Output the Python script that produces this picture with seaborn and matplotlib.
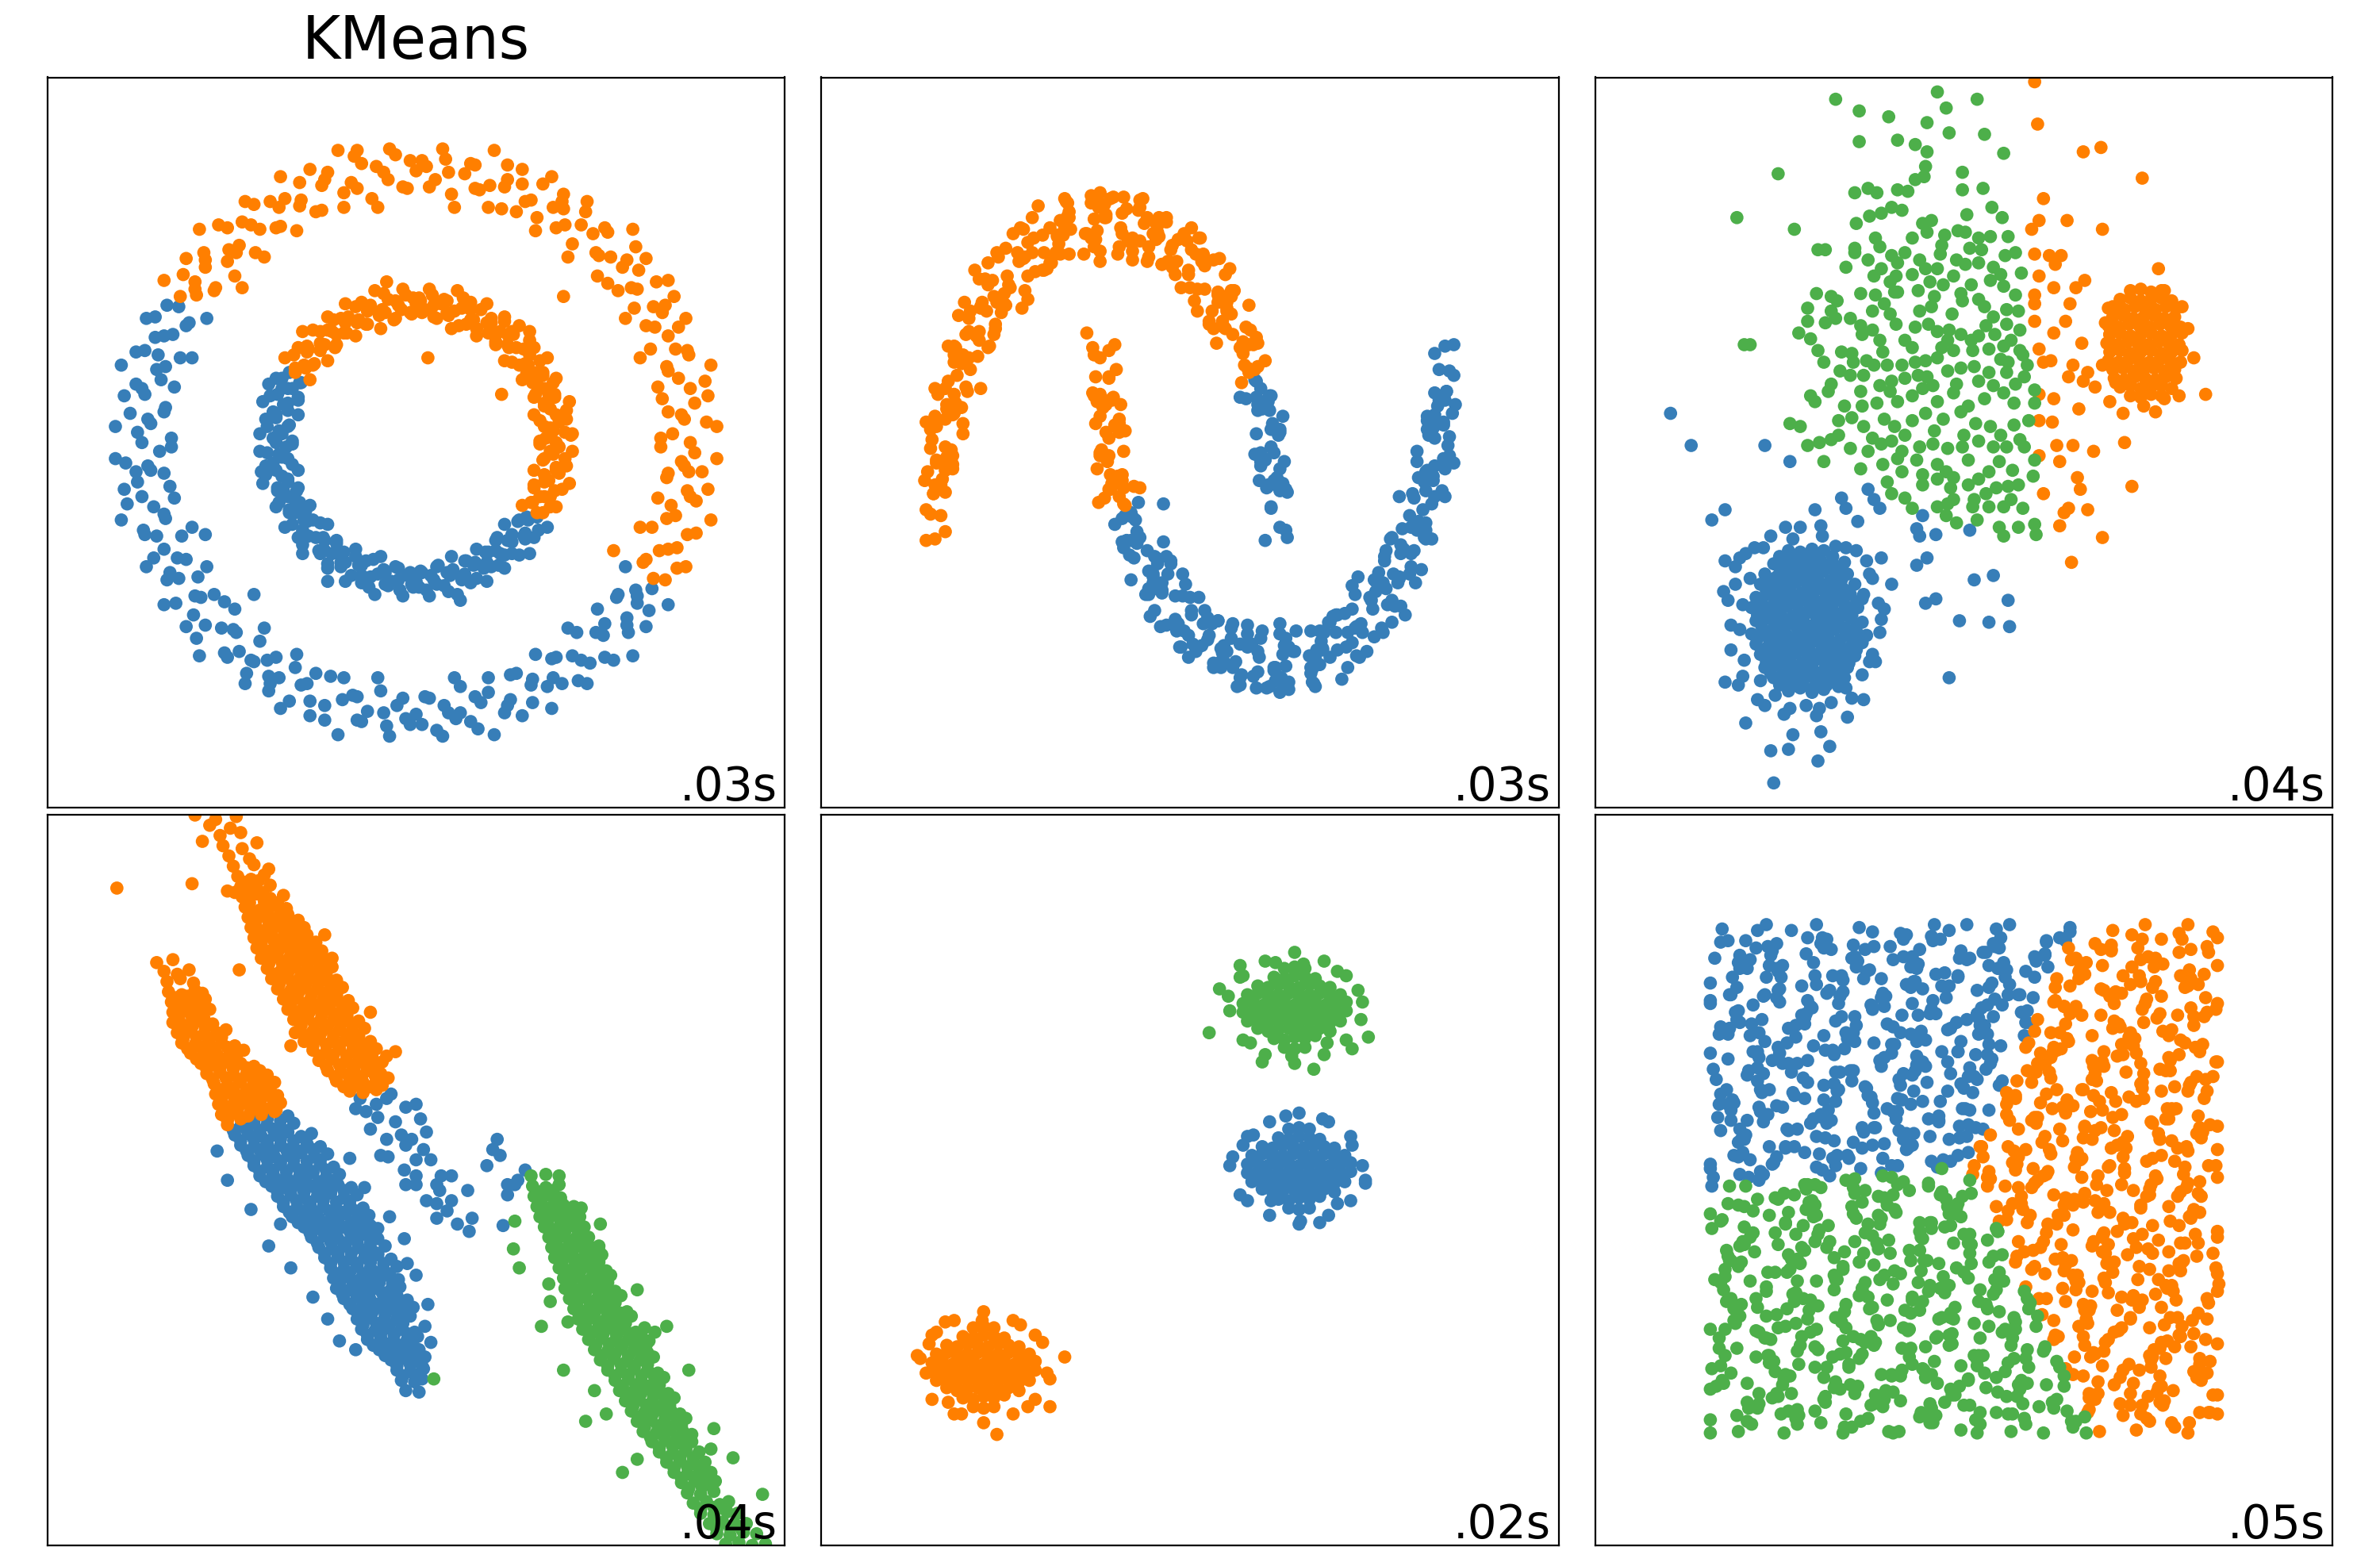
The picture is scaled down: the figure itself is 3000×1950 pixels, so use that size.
import numpy as np
import pandas as pd
import matplotlib
matplotlib.use("Agg")
import matplotlib.pyplot as plt
import seaborn as sns

# Point positions, in hundredths of a data unit.
# Every panel spans -2.5 .. 2.5 on both axes.

# --- noisy circles ---
circles_orange = [
    (186,0),(174,6),(197,14),(180,19),(189,27),(167,30),(196,42),(178,44),(171,49),(185,60),(176,64),(159,64),
    (178,79),(162,79),(167,89),(161,93),(148,92),(163,110),(146,106),(151,118),(130,109),(149,134),(132,127),
    (124,128),(130,144),(120,143),(106,136),(115,158),(101,149),(100,160),(93,161),(82,154),(86,177),(74,165),
    (72,177),(58,160),(62,190),(50,176),(43,173),(40,190),(33,184),(24,170),(20,194),(13,180),(7,189),
    (0,186),(-6,174),(-14,197),(-19,180),(-27,189),(-30,167),(-42,196),(-44,178),(-49,171),(-60,185),(-64,176),
    (-64,159),(-79,178),(-79,162),(-89,167),(-93,161),(-92,148),(-110,163),(-106,146),(-118,151),(-109,130),
    (-134,149),(-127,132),(-128,124),(-144,130),(-143,120),(-136,106),(-158,115),(-149,101),(-160,100),
    (161,-93),(154,-82),(177,-86),(165,-74),(177,-72),(160,-58),(190,-62),(176,-50),(173,-43),(190,-40),
    (184,-33),(170,-24),(194,-20),(180,-13),(189,-7),
    (140,120),(-40,200),(60,175),(175,100),(-120,135),(185,-20),(100,170),(-150,110),(-118,106),(100,100),(134,-74),
    (95,0),(88,3),(101,7),(91,10),(97,14),(84,15),(102,22),(91,23),(87,25),(94,31),(90,33),(81,33),(93,41),
    (82,40),(86,46),(82,48),(75,47),(84,56),(74,54),(77,60),(65,55),(77,70),(68,65),(63,65),(66,74),(62,74),
    (54,69),(60,83),(51,75),(51,82),(48,82),(41,78),(44,91),(37,84),(37,91),(29,80),(32,99),(26,90),(22,87),
    (21,97),(17,95),(12,86),(11,101),(6,91),(3,97),
    (0,95),(-3,88),(-7,101),(-10,91),(-14,97),(-15,84),(-22,102),(-23,91),(-25,87),(-31,94),(-33,90),(-33,81),
    (-41,93),(-40,82),(-46,86),(-48,82),(-47,75),(-56,84),(-54,74),(-60,77),(-55,65),(-70,77),(-65,68),(-65,63),
    (-74,66),(-74,62),(-69,54),(-83,60),(-75,51),(-82,51),(-82,48),
    (82,-48),(78,-41),(91,-44),(84,-37),(91,-37),(80,-29),(99,-32),(90,-26),(87,-22),(97,-21),(95,-17),(86,-12),
    (101,-11),(91,-6),(97,-3),
    (8,58),(58,33),(-20,110),(70,80),(105,5),
]
circles_orange_2 = [
    (166,3),(204,11),(182,16),(171,21),(198,32),(186,37),(164,38),(200,53),(170,52),(184,63),(152,58),(171,73),
    (183,85),(156,80),(169,94),(142,85),(171,111),(150,105),(137,104),(156,126),(143,125),(123,114),(147,146),
    (122,130),(128,147),(103,127),(112,149),(116,165),(95,147),(99,165),(81,145),(92,182),(78,166),(68,158),
    (72,187),(62,180),(49,161),(53,200),(40,174),(37,191),(26,161),(22,185),(18,201),(9,175),(4,193),
    (-171,111),(-150,105),(-137,104),(-156,126),(-143,125),(-123,114),(-147,146),(-122,130),(-128,147),
    (-103,127),(-112,149),(-116,165),(-95,147),(-99,165),(-81,145),(-92,182),(-78,166),(-68,158),(-72,187),
    (-62,180),(-49,161),(-53,200),(-40,174),(-37,191),(-26,161),(-22,185),(-18,201),(-9,175),(-4,193),
    (166,-3),(204,-11),(182,-16),(171,-21),(198,-32),(186,-37),(164,-38),(200,-53),(170,-52),(184,-63),
    (152,-58),(171,-73),(183,-85),(156,-80),(169,-94),
    (84,1),(106,6),(93,8),(87,11),(102,16),(95,19),(80,19),(104,28),(87,27),(94,33),(80,31),(87,37),(95,44),
    (79,41),(86,48),(72,43),(89,58),(76,53),(70,53),(80,65),(73,64),(60,56),(77,76),(62,67),(65,76),(54,67),
    (57,76),(60,86),(49,75),(51,85),(41,73),(48,95),(39,84),(34,81),(37,96),(31,92),(24,78),(28,104),(21,89),
    (19,98),(14,85),(12,94),(9,105),(4,89),(2,99),
    (-72,43),(-89,58),(-76,53),(-70,53),(-80,65),(-73,64),(-60,56),(-77,76),(-62,67),(-65,76),(-54,67),(-57,76),
    (-60,86),(-49,75),(-51,85),(-41,73),(-48,95),(-39,84),(-34,81),(-37,96),(-31,92),(-24,78),(-28,104),
    (-21,89),(-19,98),(-14,85),(-12,94),(-9,105),(-4,89),(-2,99),
    (84,-1),(106,-6),(93,-8),(87,-11),(102,-16),(95,-19),(80,-19),(104,-28),(87,-27),(94,-33),(80,-31),
    (87,-37),(95,-44),(79,-41),(86,-48),(72,-43),
]
circles_blue = [
    (-161,93),(-154,82),(-177,86),(-165,74),(-177,72),(-160,58),(-190,62),(-176,50),(-173,43),(-190,40),
    (-184,33),(-170,24),(-194,20),(-180,13),(-189,7),
    (-186,0),(-174,-6),(-197,-14),(-180,-19),(-189,-27),(-167,-30),(-196,-42),(-178,-44),(-171,-49),(-185,-60),
    (-176,-64),(-159,-64),(-178,-79),(-162,-79),(-167,-89),(-161,-93),(-148,-92),(-163,-110),(-146,-106),
    (-151,-118),(-130,-109),(-149,-134),(-132,-127),(-124,-128),(-130,-144),(-120,-143),(-106,-136),(-115,-158),
    (-101,-149),(-100,-160),(-93,-161),(-82,-154),(-86,-177),(-74,-165),(-72,-177),(-58,-160),(-62,-190),
    (-50,-176),(-43,-173),(-40,-190),(-33,-184),(-24,-170),(-20,-194),(-13,-180),(-7,-189),
    (0,-186),(6,-174),(14,-197),(19,-180),(27,-189),(30,-167),(42,-196),(44,-178),(49,-171),(60,-185),(64,-176),
    (64,-159),(79,-178),(79,-162),(89,-167),(93,-161),(92,-148),(110,-163),(106,-146),(118,-151),(109,-130),
    (134,-149),(127,-132),(128,-124),(144,-130),(143,-120),(136,-106),(158,-115),(149,-101),(160,-100),
    (150,-110),(-110,-150),(-190,-20),(-100,-170),(30,-185),(-175,60),(-143,-63),(-110,-104),
    (-78,41),(-91,44),(-84,37),(-91,37),(-80,29),(-99,32),(-90,26),(-87,22),(-97,21),(-95,17),(-86,12),(-101,11),
    (-91,6),(-97,3),
    (-95,0),(-88,-3),(-101,-7),(-91,-10),(-97,-14),(-84,-15),(-102,-22),(-91,-23),(-87,-25),(-94,-31),(-90,-33),
    (-81,-33),(-93,-41),(-82,-40),(-86,-46),(-82,-48),(-75,-47),(-84,-56),(-74,-54),(-77,-60),(-65,-55),(-77,-70),
    (-68,-65),(-63,-65),(-66,-74),(-62,-74),(-54,-69),(-60,-83),(-51,-75),(-51,-82),(-48,-82),(-41,-78),(-44,-91),
    (-37,-84),(-37,-91),(-29,-80),(-32,-99),(-26,-90),(-22,-87),(-21,-97),(-17,-95),(-12,-86),(-11,-101),(-6,-91),
    (-3,-97),
    (0,-95),(3,-88),(7,-101),(10,-91),(14,-97),(15,-84),(22,-102),(23,-91),(25,-87),(31,-94),(33,-90),(33,-81),
    (41,-93),(40,-82),(46,-86),(48,-82),(47,-75),(56,-84),(54,-74),(60,-77),(55,-65),(70,-77),(65,-68),(65,-63),
    (74,-66),(74,-62),(69,-54),(83,-60),(75,-51),(82,-51),
    (-105,-20),(-60,-95),(-100,40),(30,-108),
]
circles_blue_2 = [
    (-166,3),(-204,11),(-182,16),(-171,21),(-198,32),(-186,37),(-164,38),(-200,53),(-170,52),(-184,63),
    (-152,58),(-171,73),(-183,85),(-156,80),(-169,94),(-142,85),
    (-166,-3),(-204,-11),(-182,-16),(-171,-21),(-198,-32),(-186,-37),(-164,-38),(-200,-53),(-170,-52),
    (-184,-63),(-152,-58),(-171,-73),(-183,-85),(-156,-80),(-169,-94),(-142,-85),(-171,-111),(-150,-105),
    (-137,-104),(-156,-126),(-143,-125),(-123,-114),(-147,-146),(-122,-130),(-128,-147),(-103,-127),
    (-112,-149),(-116,-165),(-95,-147),(-99,-165),(-81,-145),(-92,-182),(-78,-166),(-68,-158),(-72,-187),
    (-62,-180),(-49,-161),(-53,-200),(-40,-174),(-37,-191),(-26,-161),(-22,-185),(-18,-201),(-9,-175),(-4,-193),
    (142,-85),(171,-111),(150,-105),(137,-104),(156,-126),(143,-125),(123,-114),(147,-146),(122,-130),
    (128,-147),(103,-127),(112,-149),(116,-165),(95,-147),(99,-165),(81,-145),(92,-182),(78,-166),(68,-158),
    (72,-187),(62,-180),(49,-161),(53,-200),(40,-174),(37,-191),(26,-161),(22,-185),(18,-201),(9,-175),(4,-193),
    (-84,1),(-106,6),(-93,8),(-87,11),(-102,16),(-95,19),(-80,19),(-104,28),(-87,27),(-94,33),(-80,31),
    (-87,37),(-95,44),(-79,41),(-86,48),
    (-84,-1),(-106,-6),(-93,-8),(-87,-11),(-102,-16),(-95,-19),(-80,-19),(-104,-28),(-87,-27),(-94,-33),
    (-80,-31),(-87,-37),(-95,-44),(-79,-41),(-86,-48),(-72,-43),(-89,-58),(-76,-53),(-70,-53),(-80,-65),
    (-73,-64),(-60,-56),(-77,-76),(-62,-67),(-65,-76),(-54,-67),(-57,-76),(-60,-86),(-49,-75),(-51,-85),
    (-41,-73),(-48,-95),(-39,-84),(-34,-81),(-37,-96),(-31,-92),(-24,-78),(-28,-104),(-21,-89),(-19,-98),
    (-14,-85),(-12,-94),(-9,-105),(-4,-89),(-2,-99),
    (89,-58),(76,-53),(70,-53),(80,-65),(73,-64),(60,-56),(77,-76),(62,-67),(65,-76),(54,-67),(57,-76),
    (60,-86),(49,-75),(51,-85),(41,-73),(48,-95),(39,-84),(34,-81),(37,-96),(31,-92),(24,-78),(28,-104),
    (21,-89),(19,-98),(14,-85),(12,-94),(9,-105),(4,-89),(2,-99),
]

# --- noisy moons ---
moons_orange = [
    (51,56),(46,52),(35,41),(46,68),(34,65),(25,90),(36,69),(28,88),(22,83),(30,104),(13,81),(19,103),(24,100),
    (8,124),(-1,118),(10,105),(4,129),(-9,124),(1,147),(-12,123),(-23,139),(-13,132),(-21,150),(-29,124),
    (-22,144),(-40,138),(-35,159),(-31,150),(-48,134),(-57,156),(-47,147),(-54,167),(-67,140),(-57,154),
    (-71,143),(-82,158),(-72,129),(-81,146),(-89,136),(-82,154),(-100,142),(-94,123),(-90,141),(-107,130),
    (-115,147),(-105,117),(-112,127),(-124,114),(-113,126),(-127,94),(-137,108),(-126,95),(-134,111),(-141,96),
    (-133,74),(-149,90),(-143,76),(-138,90),(-153,58),(-160,66),(-149,50),(-154,60),(-165,26),(-152,38),
    (-164,23),(-173,37),(-160,20),(-166,-3),(-172,11),(-162,-5),(-176,9),(-168,-25),(-161,-18),(-174,-35),
    (-180,-26),(-166,-61),(-169,-50),
    (36,61),(37,53),(38,79),(19,101),(25,92),(15,90),(16,125),(-1,115),(-10,115),(-8,139),(-29,154),(-21,141),
    (-34,138),(-46,157),(-42,138),(-65,153),(-67,164),(-70,143),(-91,129),(-88,152),(-99,130),(-99,118),
    (-117,130),(-125,133),(-123,108),(-142,92),(-133,100),(-143,70),(-152,74),(-145,73),(-164,42),(-161,19),
    (-160,33),(-175,2),(-166,-19),(-172,-14),(-165,-18),(-176,-49),
    (-61,58),(-52,31),(-66,34),(-55,44),(-48,16),(-61,18),(-55,-9),(-51,12),(-61,-9),(-45,-6),(-53,-28),(-60,-7),
    (-45,-31),(-38,-30),(-53,29),(-61,33),(-47,26),(-61,-7),(-53,-30),(-46,-26),(-55,-32),
    (-70,75),(-55,63),(-62,-41),(-58,-38),(-50,50),(-64,45),
]
moons_orange_2 = [
    (45,72),(43,67),(25,100),(24,78),(28,104),(5,90),(9,129),(6,140),(-12,120),(-25,143),(-19,122),(-21,154),
    (-45,168),(-46,143),(-65,134),(-58,163),(-63,145),(-84,165),(-88,129),(-86,142),(-110,114),(-106,140),
    (-110,137),(-126,102),(-139,112),(-132,78),(-131,96),(-153,96),(-150,58),(-166,37),(-155,54),(-155,24),
    (-171,33),(-170,-13),(-161,-9),(-179,-46),(-169,-29),
    (40,48),(41,77),(44,50),(23,79),(28,100),(16,78),(24,115),(1,132),(-6,106),(-2,138),(-16,154),(-12,135),
    (-39,131),(-34,161),(-39,140),(-58,154),(-61,171),(-61,131),(-85,147),(-83,155),(-97,119),(-90,142),
    (-113,146),(-122,106),(-116,124),(-130,127),(-125,94),(-150,76),(-142,93),(-144,59),(-160,60),(-159,65),
    (-154,13),(-173,18),(-166,16),(-173,-29),(-161,-15),(-178,-20),(-179,-67),
    (-65,32),(-55,45),(-48,13),(-59,24),(-63,-18),(-45,-42),(-48,-28),(-34,-31),(-51,67),(-63,28),(-55,3),
    (-64,13),(-44,8),(-54,-32),(-54,-22),
]
moons_orange_3 = [
    (36,66),(39,51),(40,94),(18,68),(27,119),(13,83),(20,126),(3,97),(5,105),(-16,151),(-15,124),(-34,166),
    (-28,127),(-43,160),(-39,125),(-64,166),(-64,139),(-67,169),(-91,130),(-85,167),(-100,118),(-95,147),
    (-112,104),(-110,98),(-131,130),(-128,89),(-146,118),(-137,65),(-150,85),(-142,37),(-164,66),(-159,27),
    (-158,46),(-176,-4),(-165,23),(-174,-35),(-162,-15),(-173,-66),
    (41,50),(40,67),(25,96),(29,74),(10,121),(19,96),(7,140),(-4,143),(0,106),(-23,150),(-19,122),(-32,167),
    (-28,134),(-52,168),(-49,129),(-62,161),(-61,124),(-83,164),(-82,129),(-103,162),(-95,123),(-107,154),
    (-120,143),(-114,92),(-137,123),(-132,81),(-143,112),(-136,66),(-157,87),(-151,35),(-160,55),(-154,6),
    (-171,35),(-165,-10),(-179,14),(-166,-34),(-172,-12),
    (-66,65),(-51,11),(-59,29),(-46,-22),(-57,7),(-48,-37),(-56,-13),(-53,30),(-65,60),(-48,7),(-57,26),
    (-51,-28),(-60,-5),(-49,-23),(-44,-43),
]
moons_blue = [
    (61,-58),(52,-31),(66,-34),(55,-44),(48,-16),(61,-18),(55,9),(51,-12),(61,9),(45,6),(53,28),(60,7),(45,31),
    (38,30),(53,-29),(61,-33),(47,-26),(61,7),(53,30),(46,26),(55,32),
    (-51,-56),(-46,-52),(-35,-41),(-46,-68),(-34,-65),(-25,-90),(-36,-69),(-28,-88),(-22,-83),(-30,-104),
    (-13,-81),(-19,-103),(-24,-100),(-8,-124),(1,-118),(-10,-105),(-4,-129),(9,-124),(-1,-147),(12,-123),
    (23,-139),(13,-132),(21,-150),(29,-124),(22,-144),(40,-138),(35,-159),(31,-150),(48,-134),(57,-156),
    (47,-147),(54,-167),(67,-140),(57,-154),(71,-143),(82,-158),(72,-129),(81,-146),(89,-136),(82,-154),
    (100,-142),(94,-123),(90,-141),(107,-130),(115,-147),(105,-117),(112,-127),(124,-114),(113,-126),(127,-94),
    (137,-108),(126,-95),(134,-111),(141,-96),(133,-74),(149,-90),(143,-76),(138,-90),(153,-58),(160,-66),
    (149,-50),(154,-60),(165,-26),(152,-38),(164,-23),(173,-37),(160,-20),(166,3),(172,-11),(162,5),(176,-9),
    (168,25),(161,18),(174,35),(180,26),(166,61),(169,50),
    (-36,-61),(-37,-53),(-38,-79),(-19,-101),(-25,-92),(-15,-90),(-16,-125),(1,-115),(10,-115),(8,-139),
    (29,-154),(21,-141),(34,-138),(46,-157),(42,-138),(65,-153),(67,-164),(70,-143),(91,-129),(88,-152),
    (99,-130),(99,-118),(117,-130),(125,-133),(123,-108),(142,-92),(133,-100),(143,-70),(152,-74),(145,-73),
    (164,-42),(161,-19),(160,-33),(175,-2),(166,19),(172,14),(165,18),(176,49),
    (-18,-42),
]
moons_blue_2 = [
    (65,-32),(55,-45),(48,-13),(59,-24),(63,18),(45,42),(48,28),(34,31),(51,-67),(63,-28),(55,-3),(64,-13),
    (44,-8),(54,32),(54,22),
    (-45,-72),(-43,-67),(-25,-100),(-24,-78),(-28,-104),(-5,-90),(-9,-129),(-6,-140),(12,-120),(25,-143),
    (19,-122),(21,-154),(45,-168),(46,-143),(65,-134),(58,-163),(63,-145),(84,-165),(88,-129),(86,-142),
    (110,-114),(106,-140),(110,-137),(126,-102),(139,-112),(132,-78),(131,-96),(153,-96),(150,-58),(166,-37),
    (155,-54),(155,-24),(171,-33),(170,13),(161,9),(179,46),(169,29),
    (-40,-48),(-41,-77),(-44,-50),(-23,-79),(-28,-100),(-16,-78),(-24,-115),(-1,-132),(6,-106),(2,-138),
    (16,-154),(12,-135),(39,-131),(34,-161),(39,-140),(58,-154),(61,-171),(61,-131),(85,-147),(83,-155),
    (97,-119),(90,-142),(113,-146),(122,-106),(116,-124),(130,-127),(125,-94),(150,-76),(142,-93),(144,-59),
    (160,-60),(159,-65),(154,-13),(173,-18),(166,-16),(173,29),(161,15),(178,20),(179,67),
]
moons_blue_3 = [
    (66,-65),(51,-11),(59,-29),(46,22),(57,-7),(48,37),(56,13),(53,-30),(65,-60),(48,-7),(57,-26),(51,28),
    (60,5),(49,23),(44,43),
    (-36,-66),(-39,-51),(-40,-94),(-18,-68),(-27,-119),(-13,-83),(-20,-126),(-3,-97),(-5,-105),(16,-151),
    (15,-124),(34,-166),(28,-127),(43,-160),(39,-125),(64,-166),(64,-139),(67,-169),(91,-130),(85,-167),
    (100,-118),(95,-147),(112,-104),(110,-98),(131,-130),(128,-89),(146,-118),(137,-65),(150,-85),(142,-37),
    (164,-66),(159,-27),(158,-46),(176,4),(165,-23),(174,35),(162,15),(173,66),
    (-41,-50),(-40,-67),(-25,-96),(-29,-74),(-10,-121),(-19,-96),(-7,-140),(4,-143),(0,-106),(23,-150),
    (19,-122),(32,-167),(28,-134),(52,-168),(49,-129),(62,-161),(61,-124),(83,-164),(82,-129),(103,-162),
    (95,-123),(107,-154),(120,-143),(114,-92),(137,-123),(132,-81),(143,-112),(136,-66),(157,-87),(151,-35),
    (160,-55),(154,-6),(171,-35),(165,10),(179,-14),(166,34),(172,12),
]

# --- blobs of varied spread ---
varied_blue = [
    (-119,-74),(-111,-75),(-103,-73),(-95,-74),
    (-129,-83),(-121,-81),(-113,-82),(-105,-84),(-97,-81),(-89,-83),(-81,-82),
    (-135,-90),(-127,-92),(-119,-89),(-111,-91),(-103,-90),(-95,-88),(-87,-91),(-79,-90),
    (-138,-97),(-130,-99),(-122,-98),(-114,-96),(-106,-99),(-98,-97),(-90,-98),(-82,-100),(-74,-97),
    (-141,-106),(-133,-104),(-125,-107),(-117,-105),(-109,-106),(-101,-108),(-93,-105),(-85,-106),(-77,-104),(-69,-107),
    (-144,-113),(-136,-115),(-128,-114),(-120,-112),(-112,-115),(-104,-114),(-96,-113),(-88,-116),(-80,-114),(-72,-113),
    (-141,-122),(-133,-120),(-125,-123),(-117,-121),(-109,-122),(-101,-124),(-93,-121),(-85,-122),(-77,-120),(-69,-123),
    (-144,-131),(-136,-129),(-128,-130),(-120,-132),(-112,-129),(-104,-130),(-96,-131),(-88,-128),(-80,-130),(-72,-131),
    (-141,-138),(-133,-140),(-125,-137),(-117,-139),(-109,-138),(-101,-136),(-93,-139),(-85,-138),(-77,-140),(-69,-137),
    (-138,-145),(-130,-147),(-122,-146),(-114,-144),(-106,-147),(-98,-146),(-90,-145),(-82,-147),(-74,-146),
    (-135,-154),(-127,-152),(-119,-155),(-111,-153),(-103,-154),(-95,-156),(-87,-153),(-79,-154),
    (-129,-161),(-121,-163),(-113,-162),(-105,-160),(-97,-163),(-89,-162),(-81,-161),
    (-119,-170),(-111,-168),(-103,-171),(-95,-169),
    (-199,20),(-185,-2),(-135,-2),(-118,-13),(-171,-53),(-162,-46),(-83,-38),(-80,-45),(-65,-32),(-61,-39),
    (-57,-45),(-72,-54),(-101,-46),(-28,-50),(-32,-59),(-30,-64),(-19,-63),(4,-60),(-25,-79),(-32,-84),(7,-94),
    (20,-91),(30,-108),(-26,-110),(-19,-107),(-3,-122),(17,-123),(31,-126),(-10,-161),(-49,-97),(-54,-114),
    (-56,-121),(-60,-150),(-68,-176),(-79,-188),(-91,-208),(-99,-218),(-129,-233),(-131,-211),(-119,-210),
    (-116,-200),(-148,-192),(-162,-164),(-153,-166),(-163,-102),(-162,-81),(-135,-180),(-100,-187),(-97,-198),
    (-152,-79),(-142,-72),(-131,-64),(-121,-58),(-111,-58),(-97,-57),(-87,-71),(-73,-74),(-66,-81),(-56,-79),
    (-62,-93),(-68,-104),(-66,-132),(-62,-145),(-69,-159),(-76,-175),(-90,-178),(-107,-180),(-118,-182),
    (-128,-173),(-138,-163),(-149,-149),(-152,-128),(-150,-111),(-155,-97),(-145,-93),
    (-155,-85),(-160,-108),(-158,-125),(-158,-142),(-150,-160),(-140,-176),(-122,-186),(-98,-182),(-80,-168),
    (-64,-150),(-57,-130),(-58,-110),(-64,-90),(-80,-72),(-96,-64),(-116,-66),(-136,-72),(-148,-76),
]
varied_blue_2 = [
    (-125,-78),(-115,-79),(-107,-78),(-99,-79),(-89,-78),
    (-125,-86),(-117,-87),(-109,-86),(-101,-87),(-93,-86),(-85,-87),
    (-131,-94),(-123,-95),(-115,-94),(-107,-95),(-99,-94),(-91,-95),(-83,-94),
    (-134,-102),(-126,-103),(-118,-102),(-110,-103),(-102,-102),(-94,-103),(-86,-102),(-78,-103),
    (-137,-110),(-129,-111),(-121,-110),(-113,-111),(-105,-110),(-97,-111),(-89,-110),(-81,-111),(-73,-110),
    (-140,-118),(-132,-119),(-124,-118),(-116,-119),(-108,-118),(-100,-119),(-92,-118),(-84,-119),(-76,-118),
    (-137,-126),(-129,-127),(-121,-126),(-113,-127),(-105,-126),(-97,-127),(-89,-126),(-81,-127),(-73,-126),
    (-140,-134),(-132,-135),(-124,-134),(-116,-135),(-108,-134),(-100,-135),(-92,-134),(-84,-135),(-76,-134),
    (-137,-142),(-129,-143),(-121,-142),(-113,-143),(-105,-142),(-97,-143),(-89,-142),(-81,-143),(-73,-142),
    (-134,-150),(-126,-151),(-118,-150),(-110,-151),(-102,-150),(-94,-151),(-86,-150),(-78,-151),
    (-131,-158),(-123,-159),(-115,-158),(-107,-159),(-99,-158),(-91,-159),(-83,-158),
    (-125,-166),(-117,-167),(-109,-166),(-101,-167),(-93,-166),(-85,-167),
]
varied_orange = [
    (113,32),(120,31),(127,33),(134,32),
    (106,38),(113,39),(120,37),(127,38),(134,39),(141,37),
    (102,44),(109,43),(116,45),(123,44),(130,43),(137,45),(144,44),
    (101,50),(108,51),(115,49),(122,50),(129,51),(136,49),(143,50),
    (98,56),(105,55),(112,57),(119,56),(126,55),(133,57),(140,56),(147,55),
    (99,62),(106,63),(113,61),(120,62),(127,63),(134,61),(141,62),(148,63),
    (97,68),(104,67),(111,69),(118,68),(125,67),(132,69),(139,68),(146,67),
    (99,74),(106,75),(113,73),(120,74),(127,75),(134,73),(141,74),(148,75),
    (98,80),(105,79),(112,81),(119,80),(126,79),(133,81),(140,80),(147,79),
    (101,86),(108,87),(115,85),(122,86),(129,87),(136,85),(143,86),
    (102,92),(109,91),(116,93),(123,92),(130,91),(137,93),(144,92),
    (106,98),(113,99),(120,97),(127,98),(134,99),(141,97),
    (113,104),(120,105),(127,103),(134,104),
    (132,119),(136,104),(98,92),(96,82),(99,74),(152,78),(148,93),(156,58),(94,53),(103,41),(99,28),(108,20),
    (122,25),(130,21),(136,30),(146,32),
    (48,247),(50,218),(81,199),(93,202),(121,181),(54,167),(51,152),(46,146),(70,152),(94,146),(48,129),(58,128),
    (66,128),(62,122),(51,114),(61,106),(76,106),(82,111),(48,101),(48,95),(72,95),(48,83),(69,83),(61,75),
    (80,68),(51,64),(54,55),(59,56),(74,53),(71,45),(84,48),(81,42),(89,38),(51,33),(61,30),(78,23),(51,15),
    (60,14),(109,0),(63,-2),(74,-2),(88,-6),(51,-9),(65,-13),(77,-24),(79,-32),(54,-35),(114,-30),(71,-45),
    (84,-46),(68,-48),(65,-57),(94,-65),(73,-82),(164,33),(101,93),
]
varied_green = [
    (-87,235),(-71,227),(-51,223),(-18,240),(-12,229),(9,235),(-25,219),(-10,212),(14,211),(-71,206),(-45,207),
    (-33,204),(-25,199),(27,198),(-126,184),(-26,189),(-27,182),(-1,185),(-1,173),(13,174),(-74,171),(-65,174),
    (-59,171),(-45,173),(-38,172),(-33,180),(-154,154),(-115,146),(-73,150),(-64,155),(-56,157),(-49,161),
    (-42,159),(19,161),(2,156),(26,154),(-28,150),(-22,152),(-35,140),(-25,144),(-13,142),(-4,145),(1,144),
    (18,141),(30,141),(-99,132),(-94,132),(-74,133),(-74,130),(-57,134),(-49,128),(-16,129),(4,133),(12,132),
    (28,128),(-45,123),(-35,115),(-26,119),(-18,119),(-7,114),(1,122),(10,123),(39,116),(-61,114),(-56,119),
    (-46,114),(-45,103),(-31,104),(-23,110),(-14,108),(-2,102),(18,111),(25,115),(27,107),(-100,102),(-90,100),
    (-86,97),(-70,102),(-60,101),(-54,95),(-62,90),(-47,103),(-22,93),(-1,97),(10,98),(14,93),(20,86),(29,91),
    (37,90),(35,101),(-106,92),(-94,82),(-87,85),(-77,85),(-106,83),(-112,75),(-104,71),(-99,63),(-83,62),
    (-76,61),(-69,74),(-62,77),(-57,70),(-46,81),(-40,70),(-33,79),(-24,81),(-18,76),(-10,77),(-11,70),(-2,74),
    (10,73),(21,74),(29,81),(38,77),(-145,67),(-149,67),(-66,56),(-61,53),(-52,53),(-42,53),(-33,55),(-26,56),
    (-18,58),(-7,63),(6,63),(17,64),(27,66),(38,63),(43,53),(-84,49),(-77,46),(-68,46),(-57,39),(-49,42),
    (-40,44),(-31,46),(-21,39),(-11,49),(-2,51),(7,52),(17,48),(30,55),(29,48),(41,45),(-104,32),(-101,28),
    (-92,35),(-81,25),(-69,25),(-59,27),(-45,28),(-35,32),(-28,37),(-18,28),(-7,34),(3,25),(14,30),(20,39),
    (27,34),(34,27),(48,36),(48,27),(-118,13),(-111,11),(-85,15),(-76,17),(-68,11),(-54,16),(-47,11),(-35,15),
    (-26,20),(-14,16),(-2,21),(8,13),(18,11),(34,12),(44,15),(-106,-2),(-98,0),(-90,2),(-77,-4),(-65,-6),
    (-56,-1),(-49,1),(-42,-6),(-30,-3),(-21,-1),(-11,-4),(-1,-3),(10,1),(20,-3),(29,-3),(41,-3),(48,-12),
    (-95,-13),(-45,-11),(-42,-20),(-28,-22),(-18,-15),(-7,-24),(3,-12),(17,-20),(24,-13),(33,-19),(47,-23),
    (-52,-27),(-49,-35),(-40,-38),(-28,-29),(-18,-25),(-9,-31),(-7,-39),(3,-29),(7,-39),(22,-31),(37,-29),
    (-18,-44),(-11,-42),(6,-44),(17,-44),(27,-44),(32,-39),(-12,-50),(9,-53),(24,-58),(27,-64),(37,-58),
    (48,-56),(49,-63),
    (-60,140),(-40,130),(-15,135),(10,140),(-80,120),(-50,110),(-30,125),(-5,125),(20,120),(35,130),(-90,90),
    (-70,80),(-50,88),(-30,90),(-8,88),(15,80),(32,70),(-95,55),(-75,55),(-55,62),(-35,65),(-15,65),(5,70),
    (25,57),(40,60),(-90,40),(-70,35),(-50,35),(-25,45),(-5,40),(10,42),(35,40),(-85,5),(-62,3),(-40,5),
    (-20,8),(0,5),(25,5),(38,2),(-70,-18),(-55,-15),(-32,-12),(-12,-20),(10,-25),(30,-30),(-35,-45),(-5,-55),
    (15,-35),(40,-45),(-20,100),(5,108),(-65,125),
]

# --- anisotropic blobs ---
aniso_orange = [
    (-150,250),(-136,247),(-122,249),(-140,243),(-126,241),(-133,236),(-119,238),(-145,232),(-131,229),
    (-118,227),(-108,231),(-127,222),(-113,220),(-124,215),(-110,216),(-100,213),(-121,208),(-112,206),
    (-103,209),(-119,201),(-109,199),(-99,202),(-128,198),(-118,194),(-108,196),(-99,193),(-90,195),
    (-116,187),(-106,185),(-97,188),(-88,186),(-114,180),(-105,181),(-96,179),(-87,182),(-80,178),
    (-112,173),(-103,171),(-94,174),(-85,172),(-76,173),
    (-110,166),(-101,167),(-92,165),(-83,166),(-74,168),(-68,163),
    (-108,159),(-99,157),(-90,160),(-81,158),(-72,159),(-64,157),
    (-105,152),(-96,153),(-87,151),(-78,152),(-69,154),(-61,151),
    (-101,145),(-92,143),(-83,146),(-74,145),(-65,144),(-57,146),
    (-98,138),(-89,139),(-80,137),(-71,138),(-62,140),(-54,137),
    (-94,131),(-85,130),(-76,132),(-67,131),(-58,129),(-50,132),
    (-90,124),(-81,125),(-72,123),(-63,124),(-54,126),(-46,123),
    (-87,117),(-78,116),(-69,118),(-60,117),(-51,115),(-43,118),
    (-83,110),(-74,111),(-65,109),(-56,110),(-47,112),(-39,109),
    (-79,103),(-70,102),(-61,104),(-52,103),(-43,101),(-35,104),
    (-75,96),(-66,97),(-57,95),(-48,96),(-39,98),(-31,95),
    (-70,89),(-61,88),(-52,90),(-43,89),(-34,87),(-27,90),
    (-66,82),(-57,83),(-48,81),(-39,82),(-30,84),(-23,81),
    (-60,75),(-51,74),(-42,76),(-33,75),(-24,73),
    (-54,68),(-45,69),(-36,67),(-27,68),(-19,70),
    (-45,61),(-36,60),(-27,62),
    (-203,200),(-152,203),(-62,168),(-57,152),(-31,115),(-20,85),(-14,88),(-120,144),(-85,92),(-76,95),(-82,101),
    (-176,149),(-165,151),(-171,143),(-162,141),(-154,144),(-169,136),(-160,138),(-151,135),
    (-168,129),(-159,127),(-150,130),(-145,128),(-166,122),(-157,123),(-148,121),(-143,124),
    (-165,115),(-156,116),(-147,114),(-140,117),(-165,108),(-156,106),(-147,109),(-138,107),
    (-162,101),(-153,102),(-144,100),(-135,101),(-129,103),(-159,94),(-150,93),(-141,95),(-132,94),(-123,92),
    (-153,87),(-144,88),(-135,86),(-126,87),(-117,89),(-146,80),(-137,79),(-128,81),(-119,80),(-110,78),
    (-142,73),(-133,74),(-124,72),(-115,73),(-106,75),(-101,72),
    (-137,66),(-128,65),(-119,67),(-110,66),(-101,64),(-96,67),
    (-136,59),(-127,60),(-118,58),(-109,59),(-100,61),(-94,58),
    (-134,52),(-125,51),(-116,53),(-107,52),(-98,50),(-92,53),
    (-132,45),(-123,46),(-114,44),(-105,45),(-96,47),(-128,38),
]
aniso_orange_2 = [
    (-116,204),(-107,205),(-123,197),(-114,198),(-104,197),(-113,190),(-103,191),(-94,190),
    (-111,183),(-101,184),(-92,183),(-109,176),(-100,177),(-91,176),(-83,177),
    (-107,169),(-98,170),(-89,169),(-80,170),(-105,162),(-96,163),(-87,162),(-78,163),(-71,162),
    (-103,155),(-94,156),(-85,155),(-76,156),(-68,155),(-100,148),(-91,149),(-82,148),(-73,149),(-65,148),
    (-96,141),(-87,142),(-78,141),(-69,142),(-61,141),(-93,134),(-84,135),(-75,134),(-66,135),(-58,134),
    (-89,127),(-80,128),(-71,127),(-62,128),(-54,127),(-85,120),(-76,121),(-67,120),(-58,121),(-50,120),
    (-82,113),(-73,114),(-64,113),(-55,114),(-47,113),(-78,106),(-69,107),(-60,106),(-51,107),(-43,106),
    (-74,99),(-65,100),(-56,99),(-47,100),(-39,99),(-70,92),(-61,93),(-52,92),(-43,93),(-35,92),
    (-65,85),(-56,86),(-47,85),(-38,86),(-30,85),(-61,78),(-52,79),(-43,78),(-34,79),(-26,78),
    (-55,71),(-46,72),(-37,71),(-28,72),(-49,64),(-40,65),(-31,64),(-23,65),
    (-164,125),(-155,126),(-148,125),(-162,118),(-153,119),(-146,118),(-161,111),(-152,112),(-144,111),
    (-161,104),(-152,105),(-143,104),(-158,97),(-149,98),(-140,97),(-132,98),
    (-155,90),(-146,91),(-137,90),(-128,91),(-149,83),(-140,84),(-131,83),(-122,84),
    (-142,76),(-133,77),(-124,76),(-115,77),(-138,69),(-129,70),(-120,69),(-111,70),(-104,69),
    (-133,62),(-124,63),(-115,62),(-106,63),(-99,62),(-132,55),(-123,56),(-114,55),(-105,56),(-97,55),
    (-130,48),(-121,49),(-112,48),(-103,49),(-95,48),(-128,41),(-119,42),
]
aniso_blue = [
    (-41,49),(-34,47),(-27,52),(-20,56),(-17,59),(-7,50),(0,52),(-31,35),(-20,28),(-7,24),(7,33),(0,14),(10,14),
    (17,3),(-7,-3),(0,-3),(14,-3),(24,3),(7,-14),(24,-14),(35,-7),(14,-26),(28,-30),(36,-35),(38,-26),(14,-16),
    (-24,17),(-19,16),(0,3),(-38,56),(-26,43),(-14,40),(-10,31),(-3,28),(3,42),(5,21),(-8,7),(16,-7),(21,-21),
    (-87,44),(-119,37),(-110,39),(-101,38),(-92,36),(-83,39),
    (-123,31),(-114,32),(-105,30),(-96,31),(-87,33),(-78,30),(-71,32),
    (-119,24),(-110,23),(-101,25),(-92,24),(-83,22),(-74,25),(-65,23),
    (-114,17),(-105,18),(-96,16),(-87,17),(-78,19),(-69,16),(-60,18),
    (-110,10),(-101,9),(-92,11),(-83,10),(-74,8),(-65,11),(-56,9),
    (-106,3),(-97,4),(-88,2),(-79,3),(-70,5),(-61,2),(-52,4),
    (-98,-4),(-89,-5),(-80,-3),(-71,-4),(-62,-6),(-53,-3),(-44,-5),
    (-94,-11),(-85,-10),(-76,-12),(-67,-11),(-58,-9),(-49,-12),(-40,-10),
    (-90,-18),(-81,-19),(-72,-17),(-63,-18),(-54,-20),(-45,-17),(-36,-19),
    (-84,-25),(-75,-24),(-66,-26),(-57,-25),(-48,-23),(-39,-26),(-32,-24),
    (-76,-32),(-67,-33),(-58,-31),(-49,-32),(-40,-34),(-31,-31),(-26,-33),
    (-71,-39),(-62,-38),(-53,-40),(-44,-39),(-35,-37),(-26,-40),
    (-66,-46),(-57,-47),(-48,-45),(-39,-46),(-30,-48),(-21,-45),
    (-62,-53),(-53,-52),(-44,-54),(-35,-53),(-26,-51),(-17,-54),
    (-58,-60),(-49,-61),(-40,-59),(-31,-60),(-22,-62),(-13,-59),
    (-56,-67),(-47,-66),(-38,-68),(-29,-67),(-20,-65),(-12,-68),
    (-54,-74),(-45,-75),(-36,-73),(-27,-74),(-18,-76),(-11,-73),
    (-49,-81),(-40,-80),(-31,-82),(-22,-81),(-13,-79),(-6,-82),
    (-43,-88),(-34,-89),(-25,-87),(-16,-88),(-7,-90),(-2,-87),
    (-40,-95),(-31,-94),(-22,-96),(-13,-95),(-4,-93),
    (-37,-102),(-28,-103),(-19,-101),(-10,-102),(-1,-104),
    (-33,-109),(-24,-108),(-15,-110),(-6,-109),(1,-107),
    (-25,-116),(-16,-117),(-7,-115),(2,-116),
    (-17,-123),(-8,-122),(1,-124),(6,-121),
    (-13,-130),(-4,-131),(5,-129),(-10,-137),(-1,-138),(4,-136),(-7,-144),(2,-145),
    (-92,-30),(-41,-116),(-6,-57),(6,-100),(10,-111),
    (55,28),(48,10),(62,-3),(59,-31),(74,7),(57,17),(52,21),(69,0),(62,-10),(67,-3),
]
aniso_blue_2 = [
    (-110,41),(-101,42),(-92,41),(-124,34),(-115,35),(-106,34),(-97,35),(-88,34),
    (-119,27),(-110,28),(-101,27),(-92,28),(-83,27),(-75,28),
    (-115,20),(-106,21),(-97,20),(-88,21),(-79,20),(-70,21),
    (-110,13),(-101,14),(-92,13),(-83,14),(-74,13),(-65,14),
    (-106,6),(-97,7),(-88,6),(-79,7),(-70,6),(-61,7),
    (-102,-1),(-93,0),(-84,-1),(-75,0),(-66,-1),(-57,0),
    (-94,-8),(-85,-7),(-76,-8),(-67,-7),(-58,-8),(-49,-7),
    (-90,-15),(-81,-14),(-72,-15),(-63,-14),(-54,-15),(-45,-14),
    (-86,-22),(-77,-21),(-68,-22),(-59,-21),(-50,-22),(-41,-21),
    (-80,-29),(-71,-28),(-62,-29),(-53,-28),(-44,-29),(-36,-28),
    (-72,-36),(-63,-35),(-54,-36),(-45,-35),(-36,-36),(-29,-35),
    (-67,-43),(-58,-42),(-49,-43),(-40,-42),(-31,-43),
    (-62,-50),(-53,-49),(-44,-50),(-35,-49),(-26,-50),
    (-58,-57),(-49,-56),(-40,-57),(-31,-56),(-22,-57),
    (-54,-64),(-45,-63),(-36,-64),(-27,-63),(-18,-64),
    (-52,-71),(-43,-70),(-34,-71),(-25,-70),(-16,-71),
    (-50,-78),(-41,-77),(-32,-78),(-23,-77),(-15,-78),
    (-45,-85),(-36,-84),(-27,-85),(-18,-84),(-10,-85),
    (-39,-92),(-30,-91),(-21,-92),(-12,-91),(-5,-92),
    (-36,-99),(-27,-98),(-18,-99),(-9,-98),
    (-33,-106),(-24,-105),(-15,-106),(-6,-105),
    (-29,-113),(-20,-112),(-11,-113),(-3,-112),
    (-21,-120),(-12,-119),(-3,-120),(-13,-127),(-4,-126),(4,-127),(-9,-134),(1,-133),
    (-135,20),(-128,0),(-112,-20),(-100,-45),(-85,-60),(-70,-80),(-60,-95),(-52,-110),
    (-45,15),(-35,-5),(-18,-25),(-8,-40),(0,-65),(8,-85),
]
aniso_green = [
    (78,3),(88,4),(79,-4),(88,-5),(97,-3),(80,-11),(89,-10),(98,-12),
    (82,-18),(91,-19),(100,-17),(107,-18),(84,-25),(93,-24),(102,-26),(111,-25),
    (87,-32),(96,-33),(105,-31),(114,-32),(90,-39),(99,-38),(108,-40),(117,-39),
    (92,-46),(101,-47),(110,-45),(119,-46),(124,-48),(94,-53),(103,-52),(112,-54),(121,-53),(126,-51),
    (97,-60),(106,-61),(115,-59),(124,-60),(129,-62),(100,-67),(109,-66),(118,-68),(127,-67),(132,-65),
    (101,-74),(110,-75),(119,-73),(128,-74),(135,-76),(104,-81),(113,-80),(122,-82),(131,-81),(139,-79),
    (107,-88),(116,-89),(125,-87),(134,-88),(143,-90),(110,-95),(119,-94),(128,-96),(137,-95),(146,-93),
    (113,-102),(122,-103),(131,-101),(140,-102),(149,-104),(155,-101),
    (117,-109),(126,-108),(135,-110),(144,-109),(153,-107),(158,-110),
    (121,-116),(130,-117),(139,-115),(148,-116),(157,-118),(125,-123),(134,-122),(143,-124),(152,-123),(161,-121),
    (130,-130),(139,-131),(148,-129),(157,-130),(164,-132),(135,-137),(144,-136),(153,-138),(162,-137),(168,-135),
    (138,-144),(147,-145),(156,-143),(165,-144),(171,-146),(142,-151),(151,-150),(160,-152),(169,-151),(175,-149),
    (146,-158),(155,-159),(164,-157),(173,-158),(179,-160),(150,-165),(159,-164),(168,-166),(177,-165),(183,-163),
    (154,-172),(163,-173),(172,-171),(181,-172),(187,-174),(160,-179),(169,-178),(178,-180),(187,-179),
    (165,-186),(174,-187),(183,-185),(192,-186),(170,-193),(179,-192),(188,-194),(196,-193),
    (175,-200),(184,-201),(193,-199),(200,-200),(180,-207),(189,-206),(198,-208),(203,-206),
    (184,-214),(193,-215),(202,-213),(188,-221),(197,-220),(206,-222),(212,-220),
    (193,-228),(202,-229),(211,-227),(218,-228),(199,-235),(208,-234),(217,-236),(224,-235),
    (204,-242),(213,-243),(222,-241),(231,-242),(210,-249),(219,-248),(228,-250),(237,-249),
    (66,-47),(67,-28),(121,-144),(129,-160),(150,-191),(202,-170),(200,-184),(162,-104),(12,-136),(124,-45),
    (90,-71),(91,-83),(103,-97),(112,-19),(97,3),
]
aniso_green_2 = [
    (84,-8),(93,-7),(85,-15),(94,-14),(87,-22),(96,-21),(104,-22),(89,-29),(98,-28),(107,-29),
    (92,-36),(101,-35),(110,-36),(95,-43),(104,-42),(113,-43),(97,-50),(106,-49),(115,-50),(122,-49),
    (99,-57),(108,-56),(117,-57),(124,-56),(102,-64),(111,-63),(120,-64),(127,-63),
    (105,-71),(114,-70),(123,-71),(130,-70),(106,-78),(115,-77),(124,-78),(132,-77),
    (109,-85),(118,-84),(127,-85),(135,-84),(112,-92),(121,-91),(130,-92),(139,-91),
    (115,-99),(124,-98),(133,-99),(142,-98),(118,-106),(127,-105),(136,-106),(145,-105),(152,-106),
    (122,-113),(131,-112),(140,-113),(149,-112),(156,-113),(126,-120),(135,-119),(144,-120),(153,-119),
    (130,-127),(139,-126),(148,-127),(157,-126),(135,-134),(144,-133),(153,-134),(161,-133),
    (140,-141),(149,-140),(158,-141),(165,-140),(143,-148),(152,-147),(161,-148),(168,-147),
    (147,-155),(156,-154),(165,-155),(172,-154),(151,-162),(160,-161),(169,-162),(176,-161),
    (155,-169),(164,-168),(173,-169),(180,-168),(159,-176),(168,-175),(177,-176),(184,-175),
    (165,-183),(174,-182),(183,-183),(170,-190),(179,-189),(188,-190),(175,-197),(184,-196),(192,-197),
    (180,-204),(189,-203),(197,-204),(185,-211),(194,-210),(193,-225),(202,-224),(209,-225),
    (204,-239),(213,-238),(221,-239),
    (70,-60),(85,-100),(100,-130),(115,-165),(140,-200),(125,-30),(150,-75),(170,-100),(185,-130),
    (215,-190),(235,-215),
]

# --- three tight blobs ---
blobs_green = [
    (57,97),(64,96),(71,98),(78,97),(85,99),
    (46,104),(53,102),(60,103),(67,104),(74,102),(81,103),(88,104),(95,102),
    (39,109),(46,110),(53,108),(60,109),(67,110),(74,108),(81,109),(88,110),(95,108),(102,109),
    (36,115),(43,116),(50,114),(57,115),(64,116),(71,114),(78,115),(85,116),(92,114),(99,115),(106,116),
    (36,121),(43,122),(50,120),(57,121),(64,122),(71,120),(78,121),(85,122),(92,120),(99,121),(106,122),
    (39,127),(46,128),(53,126),(60,127),(67,128),(74,126),(81,127),(88,128),(95,126),(102,127),
    (46,133),(53,132),(60,134),(67,133),(74,132),(81,134),(88,133),(95,132),
    (57,139),(64,138),(71,140),(78,139),(85,138),
    (13,101),(20,131),(34,147),(121,98),(110,90),(49,81),(84,76),(27,116),(34,139),(77,148),(100,143),
    (114,130),(117,122),(41,94),(69,85),(93,94),(58,149),
    (64,145),(71,146),(78,145),(64,91),(71,90),(78,91),(51,150),(91,150),(51,86),(91,86),(36,140),(106,140),
    (36,96),(106,96),(71,156),(71,80),(26,126),(116,110),
]
blobs_blue = [
    (60,-13),(67,-14),(74,-12),(81,-13),(88,-11),
    (49,-6),(56,-8),(63,-7),(70,-6),(77,-8),(84,-7),(91,-6),(98,-8),
    (42,-1),(49,0),(56,-2),(63,-1),(70,0),(77,-2),(84,-1),(91,0),(98,-2),(105,-1),
    (39,5),(46,6),(53,4),(60,5),(67,6),(74,4),(81,5),(88,6),(95,4),(102,5),(109,6),
    (39,11),(46,12),(53,10),(60,11),(67,12),(74,10),(81,11),(88,12),(95,10),(102,11),(109,12),
    (42,17),(49,18),(56,16),(63,17),(70,18),(77,16),(84,17),(91,18),(98,16),(105,17),
    (49,23),(56,22),(63,24),(70,23),(77,22),(84,24),(91,23),(98,22),
    (60,29),(67,28),(74,30),(81,29),(88,28),
    (65,44),(90,42),(75,-28),(88,-29),(27,10),(36,24),(110,24),(117,10),(119,-2),(100,-16),(34,-10),(43,31),
    (55,-14),
    (67,35),(74,36),(81,35),(67,-19),(74,-20),(81,-19),(54,40),(94,40),(54,-24),(94,-24),(39,30),(109,30),
    (39,-14),(109,-14),(74,46),(74,-30),(29,16),(119,0),
]
blobs_orange = [
    (-154,-149),(-147,-150),(-140,-148),(-133,-149),(-126,-147),
    (-165,-142),(-158,-144),(-151,-143),(-144,-142),(-137,-144),(-130,-143),(-123,-142),(-116,-144),
    (-172,-137),(-165,-136),(-158,-138),(-151,-137),(-144,-136),(-137,-138),(-130,-137),(-123,-136),(-116,-138),(-109,-137),
    (-175,-131),(-168,-130),(-161,-132),(-154,-131),(-147,-130),(-140,-132),(-133,-131),(-126,-130),(-119,-132),(-112,-131),(-105,-130),
    (-175,-125),(-168,-124),(-161,-126),(-154,-125),(-147,-124),(-140,-126),(-133,-125),(-126,-124),(-119,-126),(-112,-125),(-105,-124),
    (-172,-119),(-165,-118),(-158,-120),(-151,-119),(-144,-118),(-137,-120),(-130,-119),(-123,-118),(-116,-120),(-109,-119),
    (-165,-113),(-158,-114),(-151,-112),(-144,-113),(-137,-114),(-130,-112),(-123,-113),(-116,-114),
    (-154,-107),(-147,-108),(-140,-106),(-133,-107),(-126,-108),
    (-166,-97),(-141,-96),(-115,-99),(-100,-111),(-85,-121),(-97,-132),(-95,-155),(-110,-155),(-131,-174),
    (-155,-160),(-164,-152),(-183,-122),(-179,-132),(-177,-112),(-172,-104),
    (-147,-101),(-140,-100),(-133,-101),(-147,-155),(-140,-156),(-133,-155),(-160,-96),(-120,-96),(-160,-160),
    (-120,-160),(-175,-106),(-105,-106),(-175,-150),(-105,-150),(-140,-90),(-140,-166),(-185,-120),(-95,-136),
]

# --- no structure (uniform square) ---
square_blue = [
    (-165,163),(-164,172),(-134,175),(-133,160),(-117,171),(-96,166),(-100,175),(-75,161),(-71,173),(-43,169),
    (-41,165),(-20,175),(-22,167),(2,175),(21,160),(22,172),(31,175),(56,163),(65,166),(72,173),
    (-169,152),(-148,164),(-152,154),(-127,162),(-123,147),(-95,159),(-93,165),(-72,150),(-74,153),(-50,160),
    (-31,148),(-30,158),(-21,164),(4,152),(13,156),(20,162),(48,153),(49,150),(69,164),
    (-172,135),(-147,145),(-145,151),(-124,139),(-126,143),(-102,149),(-83,140),(-82,137),(-73,146),(-48,151),
    (-39,134),(-32,145),(-4,140),(-3,152),(19,135),(17,147),(42,143),(48,139),
    (-172,121),(-154,132),(-135,127),(-134,139),(-125,122),(-100,134),(-91,130),(-84,126),(-56,138),(-55,128),
    (-33,136),(-35,121),(-10,133),(-4,139),(21,124),(30,127),(31,134),
    (-172,123),(-152,108),(-143,120),(-136,126),(-108,111),(-107,114),(-85,121),(-87,109),(-62,119),(-56,125),
    (-31,113),(-22,117),(-21,123),(9,114),(10,111),(26,120),(47,125),(43,108),
    (-160,100),(-159,104),(-137,110),(-139,101),(-114,98),(-108,107),(-83,112),(-74,95),(-73,106),(-43,101),
    (-42,113),(-26,96),(-5,108),(-9,104),(16,100),(20,112),
    (-166,100),(-160,83),(-135,95),(-126,91),(-125,87),(-95,99),(-94,89),(-78,97),(-57,82),(-61,94),(-36,100),
    (-32,85),(-4,88),(-2,95),(19,83),(17,93),(41,99),
    (-172,87),(-147,72),(-146,75),(-130,82),(-109,70),(-113,80),(-88,86),(-84,74),(-56,78),(-54,84),(-33,75),
    (-35,72),(-11,81),(8,86),(9,69),(18,80),
    (-161,62),(-165,59),(-140,68),(-136,73),(-108,56),(-106,67),(-85,62),(-87,74),(-63,57),(-44,69),(-43,65),
    (-34,61),(-9,73),(0,63),(7,71),
    (-160,52),(-158,48),(-137,60),(-139,50),(-115,58),(-96,43),(-95,55),(-86,61),(-61,46),(-52,49),(-45,56),
    (-17,44),(-16,54),(6,60),(4,48),
    (-167,43),(-148,31),(-147,41),(-138,47),(-113,35),(-104,39),(-97,45),(-69,36),(-68,33),(-46,42),(-48,47),
    (-23,30),(-17,41),(8,36),(17,48),
    (-165,34),(-156,17),(-149,28),(-121,23),(-120,35),(-98,18),(-100,30),(-75,26),(-69,22),(-44,34),(-35,24),
    (-34,32),(-4,17),(-3,29),(13,35),
    (-172,11),(-150,19),(-152,4),(-127,16),(-121,22),(-96,7),(-87,10),(-86,17),(-56,5),(-55,15),(-39,21),
    (-18,9),(-22,13),(3,19),
    (-172,8),(-139,0),(-138,6),(-91,3),(-70,8),(-17,9),
]
square_blue_2 = [
    (-160,164),(-141,159),(-140,171),(-131,154),(-106,166),(-97,162),(-90,158),(-62,170),(-61,160),(-39,168),
    (-41,153),(-16,165),(-10,171),(15,156),(24,159),(25,166),(55,154),(56,164),(72,170),
    (-153,149),(-152,145),(-130,157),(-132,147),(-107,155),(-101,140),(-76,152),(-67,158),(-66,143),(-36,146),
    (-35,153),(-19,141),(2,151),(-2,157),(23,145),(27,149),(55,155),(57,146),
    (-158,127),(-157,139),(-127,145),(-126,130),(-110,133),(-89,140),(-93,128),(-68,138),(-64,144),(-36,132),
    (-34,136),(-13,142),(-15,133),(9,130),(28,139),(29,144),(38,127),
    (-159,127),(-155,115),(-127,125),(-125,131),(-104,119),(-106,123),(-82,129),(-63,120),(-62,117),(-53,126),
    (-28,131),(-19,114),(-12,125),(16,120),(17,132),(39,115),(37,127),
    (-154,110),(-153,116),(-144,107),(-119,104),(-110,113),(-103,118),(-75,101),(-74,112),(-52,107),(-54,119),
    (-29,102),(-23,114),(2,110),(11,106),(12,118),(42,108),(43,116),
    (-165,105),(-143,88),(-145,99),(-120,94),(-114,106),(-89,89),(-80,101),(-79,97),(-49,93),(-48,105),
    (-32,95),(-11,103),(-15,88),(10,100),(14,106),
    (-170,76),(-140,88),(-139,84),(-123,80),(-102,92),(-106,82),(-81,90),(-77,75),(-49,87),(-47,93),(-26,78),
    (-28,81),(-4,88),(15,76),(16,86),(25,92),
    (-168,69),(-140,77),(-138,62),(-117,74),(-119,80),(-95,65),(-76,68),(-75,75),(-66,63),(-41,73),(-32,79),
    (-25,67),(3,71),(4,77),(26,68),(24,65),
    (-166,52),(-157,55),(-132,62),(-123,50),(-116,60),(-88,66),(-87,54),(-65,58),(-67,64),(-42,55),(-36,52),
    (-11,61),(-2,66),(-1,49),
    (-156,53),(-158,41),(-133,45),(-127,51),(-102,42),(-93,39),(-92,48),(-62,53),(-61,36),(-45,47),(-24,42),
    (-28,54),(-3,37),(1,49),
    (-153,26),(-152,35),(-136,40),(-115,23),(-119,34),(-94,29),(-90,41),(-62,24),(-60,36),(-39,32),(-41,28),
    (-17,40),(2,30),(3,38),
    (-153,16),(-151,28),(-130,11),(-132,23),(-108,19),(-89,15),(-88,27),(-79,17),(-54,25),(-45,10),(-38,22),
    (-10,28),(-9,13),
    (-170,2),(-145,14),(-136,4),(-129,12),(-100,9),(-78,15),(-49,10),(-14,14),
    (-171,-4),(-146,2),
]
square_orange = [
    (100,161),(101,171),(123,175),(121,165),(146,169),(152,175),(172,166),
    (71,159),(94,147),(100,158),(125,153),(134,165),(135,148),(165,160),(166,156),
    (73,151),(82,141),(83,149),(113,134),(114,146),(130,152),(151,137),(147,140),(172,147),
    (61,122),(62,132),(78,138),(99,126),(95,130),(120,136),(124,124),(152,133),(154,138),(172,121),
    (68,119),(72,114),(100,126),(102,109),(123,121),(121,117),(145,113),(164,125),(165,115),
    (48,102),(50,110),(71,95),(69,107),(93,113),(112,98),(113,101),(122,108),(147,96),(156,106),(163,112),
    (60,87),(61,91),(70,97),(95,88),(104,85),(111,94),(139,99),(140,82),(162,93),(160,88),
    (43,75),(52,87),(59,70),(87,82),(88,78),(110,74),(108,86),(133,76),(139,84),(164,69),(172,81),
    (35,56),(36,68),(58,74),(56,59),(81,62),(87,69),(112,57),(121,67),(122,73),(152,61),(153,65),(169,71),
    (29,52),(35,58),(60,49),(69,46),(70,55),(100,60),(101,43),(117,54),(138,49),(134,61),(159,44),(163,56),
    (18,31),(48,43),(49,39),(65,35),(86,47),(82,37),(107,45),(111,30),(139,42),(141,48),(162,33),(160,36),
    (34,20),(30,23),(55,30),(59,18),(87,28),(89,34),(110,22),(108,26),(132,32),(151,23),(152,20),(161,29),
    (7,10),(35,7),(37,16),(58,21),(56,4),(80,15),(99,10),(100,22),(109,5),(134,17),(143,13),(150,9),(172,21),
    (6,4),(28,-4),(47,8),(48,-2),(57,6),(82,-9),(91,3),(98,9),(126,-6),(127,-3),(149,4),(147,-8),(172,2),
    (30,-21),(39,-11),(46,-5),(74,-17),(75,-13),(97,-7),(95,-16),(120,-19),(126,-10),(151,-5),(160,-22),(161,-11),
    (22,-18),(45,-24),(43,-29),(68,-17),(74,-34),(99,-22),(108,-26),(109,-30),(139,-18),(140,-28),(156,-20),(172,-35),
    (47,-48),(56,-36),(57,-30),(87,-45),(88,-42),(104,-35),(125,-47),(121,-37),(146,-31),(150,-43),(172,-39),
    (35,-56),(36,-52),(52,-46),(73,-55),(69,-58),(94,-49),(98,-44),(126,-61),(128,-50),(149,-55),(147,-43),(171,-60),
    (42,-73),(46,-61),(74,-65),(76,-69),(97,-57),(95,-67),(119,-59),(138,-74),(139,-62),(148,-56),(173,-71),
    (67,-74),(86,-86),(87,-76),(96,-70),(121,-82),(130,-78),(137,-72),(165,-81),(166,-84),
    (69,-83),(78,-100),(85,-89),(113,-94),(114,-82),(136,-99),(134,-87),(159,-91),(165,-95),
    (61,-96),(62,-106),(84,-98),(82,-113),(107,-101),(113,-95),(138,-110),(147,-107),(148,-100),(172,-112),
    (61,-109),(86,-121),(95,-117),(96,-111),(126,-120),(127,-123),(143,-114),(164,-109),(160,-126),
    (74,-133),(75,-121),(91,-138),(112,-126),(108,-130),(133,-134),(137,-122),(165,-132),(167,-124),
    (81,-134),(85,-149),(113,-146),(115,-139),(136,-151),(134,-141),(158,-135),(172,-147),
    (84,-159),(106,-153),(125,-148),(126,-165),(135,-154),(160,-159),(169,-147),
    (108,-161),(117,-171),(124,-163),(152,-173),(153,-166),(172,-160),
]
square_orange_2 = [
    (93,158),(89,162),(114,168),(118,159),(146,156),(148,165),(169,170),
    (78,143),(76,152),(100,157),(119,140),(120,151),(129,146),(154,158),(163,141),
    (63,138),(72,133),(79,145),(107,128),(108,140),(130,136),(128,132),(153,144),(159,134),
    (62,123),(68,119),(93,131),(102,121),(103,129),(133,114),(134,126),(150,132),(171,117),
    (59,101),(80,113),(76,119),(101,104),(105,107),(131,111),(135,102),(156,112),(154,118),
    (42,91),(44,94),(65,101),(63,89),(87,99),(106,105),(107,93),(116,97),(141,103),(150,94),(157,91),
    (50,80),(59,84),(66,90),(94,81),(95,78),(117,87),(115,92),(140,75),(146,86),(171,81),
    (49,74),(55,79),(80,62),(89,73),(90,68),(120,80),(121,63),(137,75),(158,71),(154,67),
    (29,60),(30,55),(46,67),(67,50),(63,62),(88,58),(92,54),(120,66),(122,56),(143,64),(141,49),(165,61),
    (29,45),(31,41),(52,53),(50,43),(74,51),(93,36),(94,48),(103,54),(128,39),(137,42),(144,49),(172,37),
    (12,23),(37,35),(46,41),(53,26),(81,29),(82,36),(104,24),(102,34),(127,40),(133,28),(158,32),(167,38),
    (13,16),(11,23),(36,11),(42,21),(67,27),(76,15),(77,19),(107,25),(108,16),(124,13),(145,22),(141,27),(166,10),
    (16,2),(17,6),(33,12),(54,3),(50,0),(75,9),(79,14),(107,-3),(109,8),(130,3),(128,15),(152,-2),(171,10),
    (16,-4),(18,1),(39,-16),(37,-5),(61,-10),(80,2),(81,-15),(90,-3),(115,-7),(124,-11),(131,1),(159,-9),(160,-1),
    (24,-28),(33,-16),(40,-20),(68,-24),(69,-12),(91,-22),(89,-14),(114,-29),(120,-17),(145,-11),(154,-26),(155,-23),
    (29,-27),(54,-42),(63,-30),(64,-24),(94,-39),(95,-36),(111,-29),(132,-41),(128,-31),(153,-25),(157,-37),
    (41,-49),(37,-42),(62,-54),(66,-44),(94,-38),(96,-50),(117,-46),(115,-40),(139,-49),(158,-52),(159,-43),
    (48,-59),(67,-53),(68,-62),(77,-65),(102,-56),(111,-51),(118,-68),(146,-57),(147,-62),(169,-50),
    (55,-64),(56,-81),(78,-70),(76,-75),(101,-63),(107,-80),(132,-68),(141,-72),(142,-76),(172,-64),
    (51,-81),(81,-85),(82,-89),(98,-77),(119,-87),(115,-79),(140,-94),(144,-82),(172,-76),
    (53,-92),(81,-107),(83,-95),(104,-89),(102,-104),(126,-101),(145,-94),(146,-106),(155,-96),
    (64,-107),(89,-119),(98,-109),(105,-103),(133,-115),(134,-111),(156,-105),(154,-114),
    (88,-118),(94,-127),(119,-130),(128,-121),(129,-116),(159,-133),(160,-122),
    (69,-129),(85,-146),(106,-135),(102,-140),(127,-128),(131,-145),(156,-131),(161,-137),
    (91,-146),(89,-150),(113,-154),(132,-142),(133,-152),(142,-144),(167,-159),
    (85,-157),(92,-172),(120,-160),(121,-154),(143,-169),(141,-166),(166,-159),
]
square_green = [
    (-148,-4),(-108,-3),(-107,-6),(-74,-9),(-49,2),(-45,-3),(-15,-8),(4,0),
    (-160,-16),(-159,-4),(-143,-21),(-122,-9),(-126,-13),(-101,-17),(-97,-5),(-69,-15),(-67,-7),(-46,-22),
    (-48,-10),(-24,-4),(-5,-19),(-4,-16),(5,-9),
    (-172,-23),(-153,-17),(-149,-32),(-121,-29),(-119,-22),(-98,-34),(-100,-24),(-76,-18),(-57,-30),(-56,-26),
    (-47,-20),(-22,-29),(-13,-32),(-6,-23),(23,-35),
    (-171,-33),(-150,-42),(-152,-45),(-128,-36),(-109,-31),(-108,-48),(-99,-37),(-74,-42),(-65,-30),(-58,-47),
    (-30,-35),(-29,-39),(-7,-43),(-9,-31),(16,-41),(22,-33),
    (-161,-48),(-160,-52),(-151,-56),(-126,-44),(-117,-54),(-110,-46),(-82,-61),(-81,-49),(-59,-43),(-61,-58),
    (-36,-55),(-30,-48),(-5,-60),(4,-50),(5,-44),
    (-169,-68),(-162,-61),(-134,-73),(-133,-63),(-111,-57),(-113,-69),(-88,-65),(-82,-59),(-57,-68),(-48,-71),
    (-47,-62),(-17,-57),(-16,-74),(0,-63),(21,-68),(17,-56),
    (-163,-75),(-165,-70),(-140,-87),(-134,-76),(-109,-81),(-100,-69),(-99,-86),(-69,-74),(-68,-78),(-52,-82),
    (-31,-70),(-35,-80),(-10,-72),(-6,-87),(22,-75),(24,-69),(45,-84),(43,-81),
    (-161,-83),(-152,-93),(-151,-85),(-121,-100),(-120,-88),(-104,-82),(-83,-97),(-87,-94),(-62,-87),(-58,-99),
    (-30,-89),(-28,-83),(-7,-95),(-9,-91),(15,-85),(34,-94),(35,-97),(44,-88),
    (-172,-102),(-156,-96),(-135,-108),(-139,-104),(-114,-98),(-110,-107),(-82,-110),(-80,-101),(-59,-96),
    (-61,-113),(-37,-102),(-18,-107),(-17,-95),(-8,-112),(17,-100),(26,-104),(33,-108),
    (-166,-115),(-162,-120),(-134,-108),(-132,-125),(-111,-113),(-113,-117),(-89,-121),(-70,-109),(-69,-119),
    (-60,-111),(-35,-126),(-26,-114),(-19,-108),(9,-123),(10,-120),(32,-113),(30,-125),(55,-115),
    (-163,-139),(-165,-127),(-141,-121),(-122,-136),(-121,-133),(-112,-126),(-87,-138),(-78,-128),(-71,-122),
    (-43,-134),(-42,-130),(-20,-124),(-22,-133),(3,-136),(9,-127),(34,-122),(43,-139),(44,-128),
    (-172,-143),(-164,-137),(-139,-146),(-130,-149),(-123,-140),(-95,-135),(-94,-152),(-72,-141),(-74,-146),
    (-49,-134),(-43,-151),(-18,-139),(-9,-143),(-8,-147),(22,-135),(23,-145),(39,-137),(60,-152),(56,-140),
    (-172,-164),(-147,-152),(-146,-156),(-124,-160),(-126,-148),(-101,-158),(-95,-150),(-70,-165),(-61,-153),
    (-60,-147),(-30,-162),(-29,-159),(-13,-152),(8,-164),(4,-154),(29,-148),(33,-160),(61,-156),(63,-150),(82,-162),
    (-172,-173),(-153,-172),(-147,-165),(-122,-173),(-113,-167),(-112,-161),(-82,-173),(-81,-169),(-65,-163),
    (-44,-172),(-48,-173),(-23,-166),(-19,-161),(9,-173),(11,-167),(32,-172),(30,-160),(54,-173),(73,-165),
    (74,-169),(83,-173),
]
square_green_2 = [
    (-101,-3),(-80,0),(-55,3),(-24,-2),(-15,8),
    (-140,-13),(-115,-10),(-106,-3),(-105,-15),(-75,-5),(-74,1),(-58,-11),(-37,-7),(-41,-1),(-16,-10),(-12,-13),
    (-165,-28),(-149,-18),(-128,-12),(-132,-24),(-107,-20),(-103,-14),(-75,-23),(-73,-26),(-52,-17),(-54,-12),
    (-30,-29),(-11,-18),(-10,-23),(-1,-11),
    (-164,-27),(-143,-36),(-145,-39),(-121,-30),(-102,-25),(-101,-42),(-92,-31),(-67,-36),(-58,-24),(-51,-41),
    (-23,-29),(-22,-33),(0,-37),(-2,-25),(23,-35),
    (-158,-55),(-149,-44),(-142,-49),(-114,-37),(-113,-54),(-91,-42),(-93,-46),(-68,-50),(-62,-38),(-37,-48),
    (-28,-40),(-27,-55),(3,-43),(4,-37),(20,-52),
    (-159,-55),(-153,-59),(-128,-63),(-119,-51),(-118,-61),(-88,-53),(-87,-68),(-71,-56),(-50,-50),(-54,-65),
    (-29,-62),(-25,-55),(3,-67),(5,-57),(26,-51),(24,-63),
    (-162,-66),(-141,-81),(-145,-69),(-120,-63),(-116,-78),(-88,-75),(-86,-68),(-65,-80),(-67,-70),(-43,-64),
    (-24,-76),(-23,-72),(-14,-66),(11,-75),(20,-78),(27,-69),
    (-156,-88),(-158,-81),(-134,-93),(-115,-83),(-114,-77),(-105,-89),(-80,-85),(-71,-79),(-64,-88),(-36,-91),
    (-35,-82),(-13,-77),(-15,-94),(10,-83),(16,-88),(41,-76),(50,-93),
    (-162,-102),(-155,-98),(-127,-92),(-126,-101),(-104,-104),(-106,-95),(-81,-90),(-75,-107),(-50,-96),
    (-41,-101),(-40,-89),(-10,-106),(-9,-94),(7,-98),(28,-102),(24,-90),(49,-100),
    (-166,-108),(-141,-103),(-132,-120),(-131,-109),(-101,-114),(-100,-102),(-84,-119),(-63,-107),(-67,-111),
    (-42,-115),(-38,-103),(-10,-113),(-8,-105),(13,-120),(11,-108),(35,-102),(54,-117),(55,-114),
    (-154,-115),(-158,-132),(-133,-120),(-129,-124),(-101,-128),(-99,-116),(-78,-126),(-80,-118),(-56,-133),
    (-37,-121),(-36,-115),(-27,-130),(-2,-127),(7,-120),(14,-132),(42,-122),(43,-116),(65,-128),(63,-124),
    (-171,-129),(-147,-139),(-128,-131),(-127,-146),(-118,-134),(-93,-128),(-84,-143),(-77,-140),(-49,-133),
    (-48,-145),(-26,-135),(-28,-129),(-3,-141),(3,-137),(28,-131),(37,-140),(38,-143),(68,-134),
    (-168,-141),(-140,-156),(-139,-153),(-117,-146),(-119,-158),(-94,-148),(-88,-142),(-63,-154),(-54,-150),
    (-53,-144),(-23,-153),(-22,-156),(-6,-147),(15,-142),(11,-159),(36,-148),(40,-153),(68,-141),(70,-158),
    (-154,-161),(-145,-155),(-144,-167),(-114,-163),(-113,-157),(-97,-166),(-76,-169),(-80,-160),(-55,-155),
    (-51,-172),(-23,-161),(-21,-166),(0,-154),(-2,-171),(22,-159),(41,-163),(42,-167),(51,-155),(76,-165),
]

timings = [".03s", ".03s", ".04s", ".04s", ".02s", ".05s"]
palette = {"0": "#377eb8", "1": "#ff7f00", "2": "#4daf4a"}

panels = [
    {"0": circles_blue + circles_blue_2, "1": circles_orange + circles_orange_2},
    {"0": moons_blue + moons_blue_2 + moons_blue_3,
     "1": moons_orange + moons_orange_2 + moons_orange_3},
    {"0": varied_blue + varied_blue_2, "1": varied_orange, "2": varied_green},
    {"0": aniso_blue + aniso_blue_2, "1": aniso_orange + aniso_orange_2,
     "2": aniso_green + aniso_green_2},
    {"0": blobs_blue, "1": blobs_orange, "2": blobs_green},
    {"0": square_blue + square_blue_2, "1": square_orange + square_orange_2,
     "2": square_green + square_green_2},
]


def to_frame(clusters):
    parts = []
    for label, pts in clusters.items():
        arr = np.array(pts, dtype=float) / 100.0
        parts.append(pd.DataFrame({"x": arr[:, 0], "y": arr[:, 1], "cluster": label}))
    return pd.concat(parts, ignore_index=True)


fig, axes = plt.subplots(2, 3, figsize=(15, 9.75), dpi=200)
plt.subplots_adjust(left=.02, right=.98, bottom=.001, top=.95, wspace=.05, hspace=.01)

for ax, clusters, timing in zip(axes.flat, panels, timings):
    df = to_frame(clusters)
    sns.scatterplot(data=df, x="x", y="y", hue="cluster", palette=palette,
                    s=36, linewidth=0, legend=False, ax=ax)
    ax.set_xlim(-2.5, 2.5)
    ax.set_ylim(-2.5, 2.5)
    ax.set_xticks([])
    ax.set_yticks([])
    ax.set_xlabel("")
    ax.set_ylabel("")
    ax.text(.99, .01, timing, transform=ax.transAxes, size=21,
            horizontalalignment="right")

axes[0, 0].set_title("KMeans", fontsize=26.5, pad=8.6)

fig.savefig("out.png", dpi=200)
